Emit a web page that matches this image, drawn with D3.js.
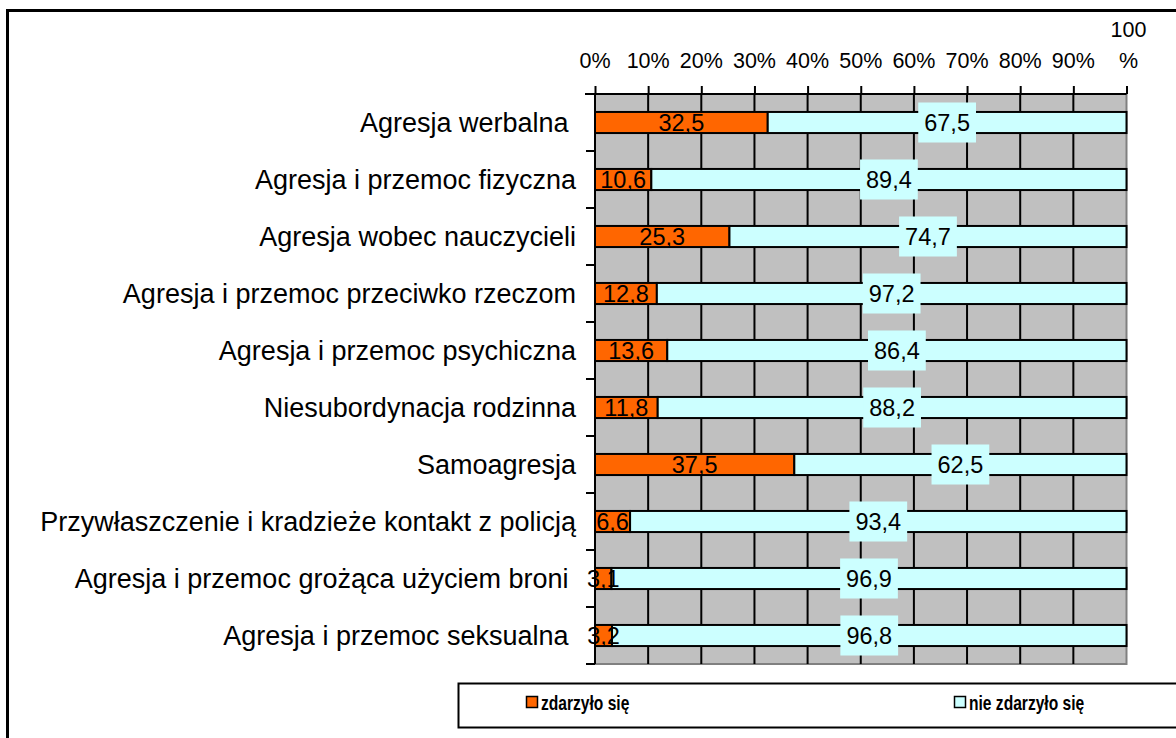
<!DOCTYPE html>
<html>
<head>
<meta charset="utf-8">
<script src="https://cdn.jsdelivr.net/npm/d3@7"></script>
<style>
  body { margin: 0; background: #fff; }
  text { font-family: "Liberation Sans", Arial, sans-serif; white-space: pre; }
</style>
</head>
<body>
<svg id="chart"></svg>
<script>
const categories = [
  "Agresja werbalna ",
  "Agresja i przemoc fizyczna",
  "Agresja wobec nauczycieli",
  "Agresja i przemoc przeciwko rzeczom",
  "Agresja i przemoc psychiczna",
  "Niesubordynacja rodzinna",
  "Samoagresja",
  "Przywłaszczenie i kradzieże kontakt z policją",
  "Agresja i przemoc grożąca użyciem broni ",
  "Agresja i przemoc seksualna "
];
const happened = [32.5, 10.6, 25.3, 12.8, 13.6, 11.8, 37.5, 6.6, 3.1, 3.2];
const notHappened = [67.5, 89.4, 74.7, 97.2, 86.4, 88.2, 62.5, 93.4, 96.9, 96.8];
const seriesNames = ["zdarzyło się", "nie zdarzyło się"];
const tickValues = [0, 0.1, 0.2, 0.3, 0.4, 0.5, 0.6, 0.7, 0.8, 0.9, 1];

const W = 1176, H = 738;
const margin = {top: 94, left: 595, right: 50, bottom: 74};
const colors = ["#FF6600", "#CCFFFF"];

const svg = d3.select("#chart").attr("width", W).attr("height", H);

// outer frame (runs past the right and bottom edges)
svg.append("rect")
  .attr("x", 7.5).attr("y", 10.5)
  .attr("width", W + 20).attr("height", H + 20)
  .attr("fill", "none").attr("stroke", "#000").attr("stroke-width", 3);

const rows = categories.map((c, i) => ({cat: c, a: happened[i], b: notHappened[i]}));
const stack = d3.stack().keys(["a", "b"]).offset(d3.stackOffsetExpand);
const layers = stack(rows);

const x = d3.scaleLinear().domain([0, 1]).range([margin.left, W - margin.right + 0.5]);
const y = d3.scaleBand().domain(categories).range([margin.top, H - margin.bottom])
  .paddingInner(0.63).paddingOuter(0.315);
const step = y.step();
const plotBottom = H - margin.bottom;

const fmt = d3.formatLocale({decimal: ",", thousands: " ", grouping: [3], currency: ["", ""]}).format(".1f");

// plot background
svg.append("rect")
  .attr("x", x(0)).attr("y", margin.top)
  .attr("width", x(1) - x(0)).attr("height", plotBottom - margin.top)
  .attr("fill", "#C0C0C0").attr("stroke", "#808080").attr("stroke-width", 2);

// vertical gridlines
svg.append("g")
  .selectAll("line")
  .data(tickValues.slice(1, -1))
  .enter()
  .append("line")
  .attr("x1", d => x(d)).attr("x2", d => x(d))
  .attr("y1", margin.top).attr("y2", plotBottom)
  .attr("stroke", "#000").attr("stroke-width", 2);

// top axis
const xAxis = d3.axisTop(x).tickValues(tickValues).tickSize(8).tickFormat("");
const gx = svg.append("g").attr("transform", `translate(0,${margin.top})`).call(xAxis);
gx.select(".domain").attr("stroke", "#000").attr("stroke-width", 2).attr("d", `M${x(0) - 10},0H${x(1)}`);
gx.selectAll(".tick line").attr("stroke", "#000").attr("stroke-width", 2);

const tickLab = svg.append("g");
tickValues.forEach(t => {
  const txt = tickLab.append("text")
    .attr("x", x(t)).attr("y", 68)
    .attr("text-anchor", "middle")
    .attr("font-size", 21.5);
  if (t === 1) {
    txt.append("tspan").attr("x", x(t) + 2).attr("dy", -31).text(Math.round(t * 100));
    txt.append("tspan").attr("x", x(t) + 2).attr("dy", 31).text("%");
  } else {
    txt.text(Math.round(t * 100) + "%");
  }
});

// left axis
svg.append("line")
  .attr("x1", x(0)).attr("x2", x(0)).attr("y1", margin.top).attr("y2", plotBottom)
  .attr("stroke", "#000").attr("stroke-width", 2);
svg.append("g")
  .selectAll("line")
  .data(d3.range(categories.length + 1))
  .enter()
  .append("line")
  .attr("x1", x(0) - 9).attr("x2", x(0))
  .attr("y1", i => margin.top + i * step).attr("y2", i => margin.top + i * step)
  .attr("stroke", "#000").attr("stroke-width", 2);

svg.append("g")
  .selectAll("text")
  .data(categories)
  .enter()
  .append("text")
  .attr("x", x(0) - 19)
  .attr("y", d => y(d) + y.bandwidth() / 2)
  .attr("dy", "0.36em")
  .attr("text-anchor", "end")
  .attr("font-size", 27)
  .text(d => d);

// bars
layers.forEach((layer, li) => {
  svg.append("g")
    .selectAll("rect")
    .data(layer)
    .enter()
    .append("rect")
    .attr("x", d => x(d[0]))
    .attr("y", d => y(d.data.cat))
    .attr("width", d => x(d[1]) - x(d[0]))
    .attr("height", y.bandwidth())
    .attr("fill", colors[li])
    .attr("stroke", "#000").attr("stroke-width", 2);
});

// labels: orange without box, cyan with box
const labA = svg.append("g");
layers[0].forEach(d => {
  labA.append("text")
    .attr("x", (x(d[0]) + x(d[1])) / 2)
    .attr("y", y(d.data.cat) + y.bandwidth() / 2)
    .attr("dy", "0.36em")
    .attr("text-anchor", "middle")
    .attr("font-size", 23.5)
    .text(fmt(d.data.a));
});
const labB = svg.append("g");
layers[1].forEach(d => {
  const cx = (x(d[0]) + x(d[1])) / 2;
  const cy = y(d.data.cat) + y.bandwidth() / 2;
  const g = labB.append("g");
  const t = g.append("text")
    .attr("x", cx).attr("y", cy).attr("dy", "0.36em")
    .attr("text-anchor", "middle").attr("font-size", 23.5)
    .text(fmt(d.data.b));
  const w = t.node().getComputedTextLength() + 12;
  g.insert("rect", "text")
    .attr("x", cx - w / 2).attr("y", cy - 20)
    .attr("width", w).attr("height", 40)
    .attr("fill", colors[1]);
});

// legend
const lg = svg.append("g");
lg.append("rect")
  .attr("x", 458.5).attr("y", 683.5).attr("width", W).attr("height", 44)
  .attr("fill", "#fff").attr("stroke", "#000").attr("stroke-width", 2);
const legX = [526, 954];
seriesNames.forEach((n, i) => {
  lg.append("rect")
    .attr("x", legX[i] + 0.5).attr("y", 696.5).attr("width", 11).attr("height", 11)
    .attr("fill", colors[i]).attr("stroke", "#000").attr("stroke-width", 1.5);
  lg.append("text")
    .attr("transform", `translate(${legX[i] + 15},710) scale(0.8,1)`)
    .attr("font-size", 19.5).attr("font-weight", "bold")
    .text(n);
});
</script>
</body>
</html>
